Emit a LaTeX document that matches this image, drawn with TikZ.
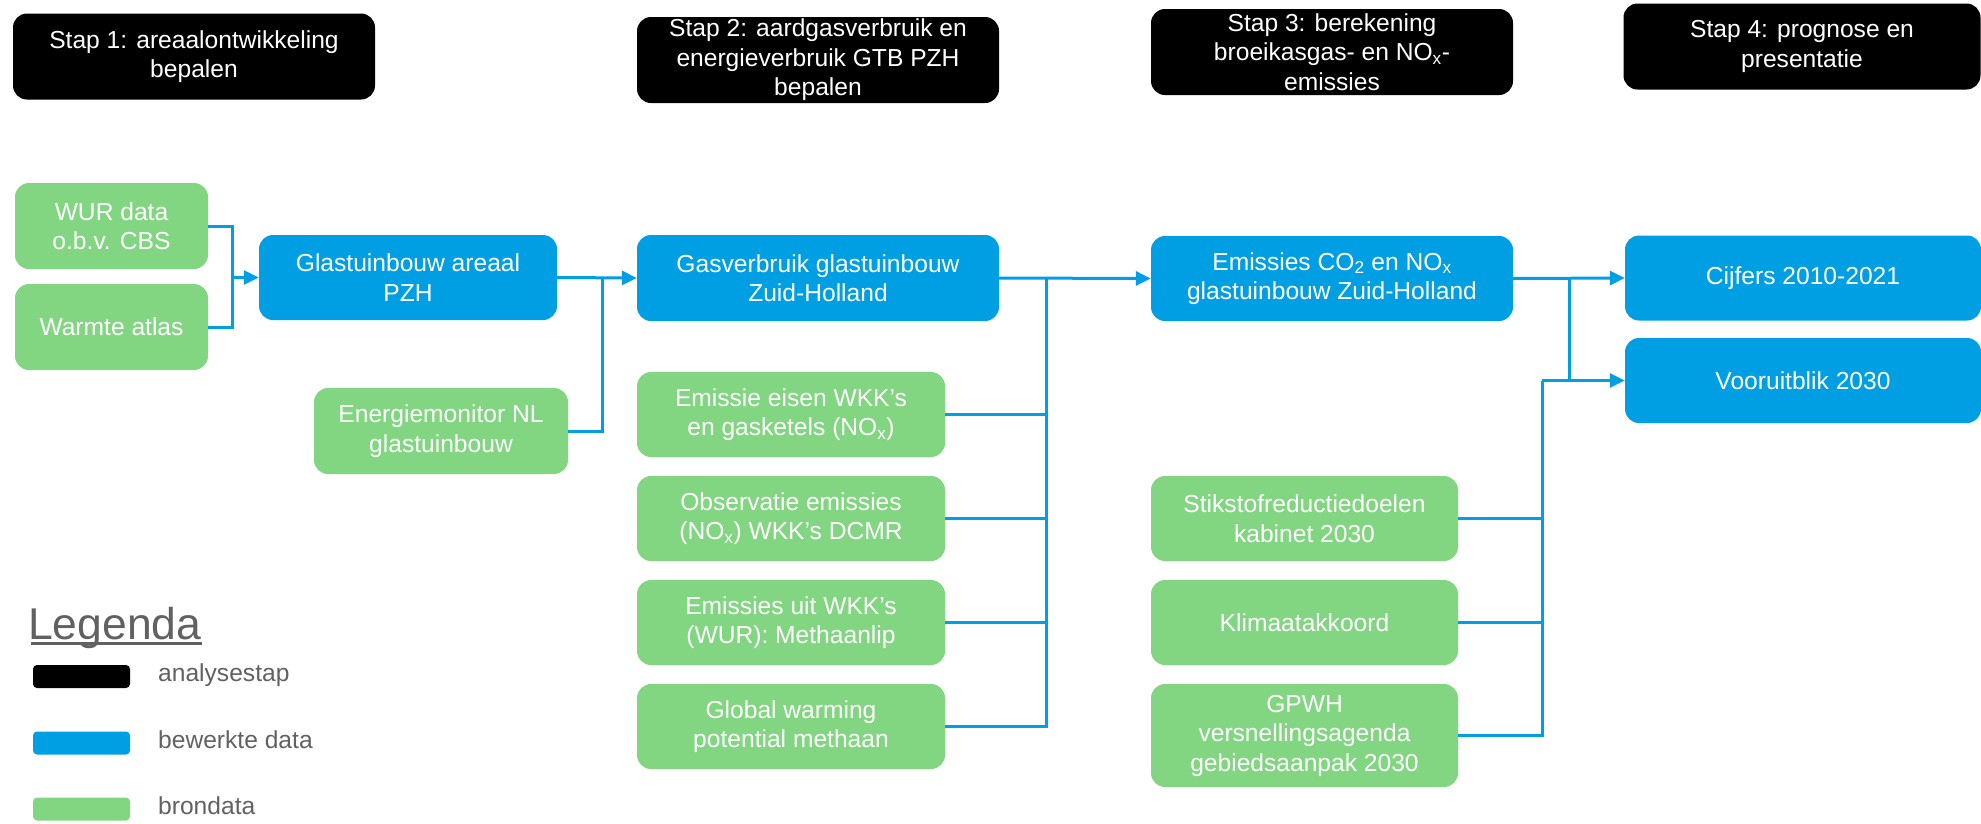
\documentclass[tikz,border=0pt]{standalone}
\usepackage{fontspec}
\setmainfont{Liberation Sans}
\usetikzlibrary{arrows.meta}

\definecolor{stepblack}{HTML}{000000}
\definecolor{procblue}{HTML}{009FE3}
\definecolor{srcgreen}{HTML}{82D682}
\definecolor{leggray}{HTML}{616161}

\tikzset{
  box/.style={rounded corners=14pt, inner sep=0pt, align=center, text=white,
    font=\fontsize{24.6}{29.5}\selectfont},
  stepbox/.style={box, fill=stepblack, minimum width=362pt, minimum height=86pt},
  databox/.style={box, fill=procblue, minimum height=85pt},
  srcbox/.style={box, fill=srcgreen, minimum height=85pt},
  conn/.style={draw=procblue, line width=3pt},
  flow/.style={conn, -{Triangle[length=15pt, width=14pt]}},
  swatch/.style={rounded corners=4pt, minimum width=97pt, minimum height=23pt, inner sep=0pt},
  legtext/.style={text=leggray, inner sep=0pt, font=\fontsize{24.6}{29.5}\selectfont, anchor=mid west}
}

\begin{document}
\begin{tikzpicture}[x=1pt, y=-1pt]
\useasboundingbox (0,0) rectangle (1981,823);

% analysis steps
\node[stepbox] (s1) at (194,56.5) {Stap 1: areaalontwikkeling\\bepalen};
\node[stepbox] (s2) at (818,60) {Stap 2: aardgasverbruik en\\energieverbruik GTB PZH\\bepalen};
\node[stepbox] (s3) at (1332,52) {Stap 3: berekening\\broeikasgas- en NO\textsubscript{x}-\\emissies};
\node[stepbox, minimum width=357pt] (s4) at (1802,46.5) {Stap 4: prognose en\\presentatie};

% step 1
\node[srcbox, minimum width=193pt, minimum height=86pt] (wur) at (111.5,226) {WUR data\\o.b.v. CBS};
\node[srcbox, minimum width=193pt, minimum height=86pt] (warm) at (111.5,327) {Warmte atlas};
\node[databox, minimum width=298pt] (glas) at (408,277.5) {Glastuinbouw areaal\\PZH};
\node[srcbox, minimum width=254pt, minimum height=86pt] (energ) at (441,431) {Energiemonitor NL\\glastuinbouw};

% step 2
\node[databox, minimum width=362pt, minimum height=86pt] (gas) at (818,278) {Gasverbruik glastuinbouw\\Zuid-Holland};
\node[srcbox, minimum width=308pt] (eisen) at (791,414.5) {Emissie eisen WKK’s\\en gasketels (NO\textsubscript{x})};
\node[srcbox, minimum width=308pt] (obs) at (791,518.5) {Observatie emissies\\(NO\textsubscript{x}) WKK’s DCMR};
\node[srcbox, minimum width=308pt] (emuit) at (791,622.5) {Emissies uit WKK’s\\(WUR): Methaanlip};
\node[srcbox, minimum width=308pt] (gwp) at (791,726.5) {Global warming\\potential methaan};

% step 3
\node[databox, minimum width=362pt] (emis) at (1332,278.5) {Emissies CO\textsubscript{2} en NO\textsubscript{x}\\glastuinbouw Zuid-Holland};
\node[srcbox, minimum width=307pt] (stik) at (1304.5,518.5) {Stikstofreductiedoelen\\kabinet 2030};
\node[srcbox, minimum width=307pt] (klim) at (1304.5,622.5) {Klimaatakkoord};
\node[srcbox, minimum width=307pt, minimum height=103pt] (gpwh) at (1304.5,735.5) {GPWH\\versnellingsagenda\\gebiedsaanpak 2030};

% step 4
\node[databox, minimum width=356pt] (cijf) at (1803,278) {Cijfers 2010-2021};
\node[databox, minimum width=356pt] (voor) at (1803,380.5) {Vooruitblik 2030};

% junction points
\coordinate (m1) at (232,277.5);
\coordinate (m2) at (602,277.5);
\coordinate (m3) at (1046,278);
\coordinate (m4) at (1569,278);
\coordinate (m5) at (1542,380.5);

% connectors
\draw[conn] (wur.east) -| (m1);
\draw[conn] (warm.east) -| (m1);
\draw[flow] (m1) -- (glas.west);

\draw[flow] (glas.east) -- (gas.west);
\draw[conn] (energ.east) -| (m2);

\draw[flow] (gas.east) -- (emis.west);
\draw[conn] (eisen.east) -| (m3);
\draw[conn] (obs.east) -| (m3);
\draw[conn] (emuit.east) -| (m3);
\draw[conn] (gwp.east) -| (m3);

\draw[flow] (emis.east) -- (cijf.west);
\draw[conn] (m4) -- (m4 |- voor.west);
\draw[flow] (m5) -- (voor.west);
\draw[conn] (stik.east) -| (m5);
\draw[conn] (klim.east) -| (m5);
\draw[conn] (gpwh.east) -| (m5);

% legend
\node[text=leggray, inner sep=0pt, anchor=base west, font=\fontsize{44.5}{50}\selectfont] (leg) at (28,639) {Legenda};
\draw[leggray, line width=2.5pt] ([xshift=3pt, yshift=-4.5pt]leg.base west) -- ([yshift=-4.5pt]leg.base east);
\node[swatch, fill=stepblack] (lk1) at (81.5,676.5) {};
\node[swatch, fill=procblue] (lk2) at (81.5,743) {};
\node[swatch, fill=srcgreen] (lk3) at (81.5,809) {};
\node[legtext] (lt1) at (158,679) {analysestap};
\node[legtext] (lt2) at (158,746) {bewerkte data};
\node[legtext] (lt3) at (158,812) {brondata};
\end{tikzpicture}
\end{document}
